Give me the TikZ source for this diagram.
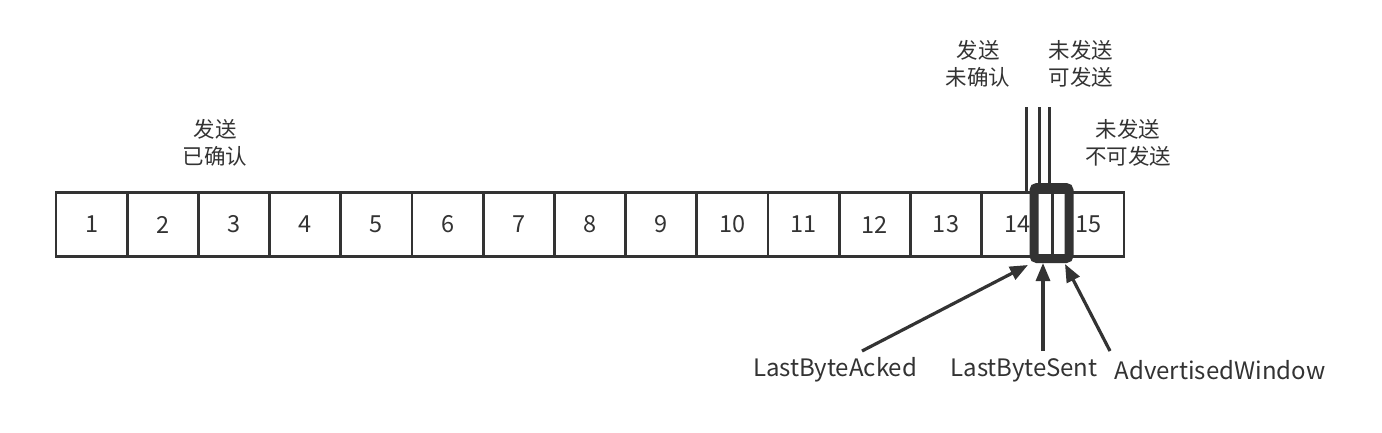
\documentclass[tikz,border=0pt]{standalone}
\usepackage{fontspec}
\setmainfont{Noto Sans CJK SC}
\usetikzlibrary{arrows.meta}

\definecolor{ink}{HTML}{333333}
\tikzstyle{cell}=[rectangle, draw=ink, line width=2.8pt, minimum width=71.2pt, minimum height=64pt, inner sep=0pt, text=ink, font=\fontsize{23.5}{26}\selectfont]
\tikzstyle{label}=[text=ink, align=center, font=\fontsize{21.5}{27}\selectfont]
\tikzstyle{latin}=[text=ink, font=\fontsize{24}{27}\selectfont]
\tikzstyle{pointer}=[draw=ink, line width=3.2pt, -{Triangle[length=18pt,width=14pt]}]

\begin{document}
\begin{tikzpicture}[x=1pt, y=-1pt]
            \useasboundingbox (0,0) rectangle (1382,432);

            % Bunky 1--15
            \foreach \i in {1,...,15}
                \node[cell] (c\i) at ({56+71.2*(\i-0.5)},224.5) {\i};

            % Okno
            \node[draw=ink, line width=9pt, rounded corners=3pt, minimum width=35pt, minimum height=71pt, inner sep=0pt] (win) at (1051.5,223) {};

            % Popisky nahore
            \node[label] (acked) at (215,143) {发送\\已确认};
            \node[label] (unacked) at (978,64) {发送\\未确认};
            \node[label] (usable) at (1081,64) {未发送\\可发送};
            \node[label] (unusable) at (1128,143) {未发送\\不可发送};

            % Cary nad oknem
            \coordinate (t1) at (1026,107);
            \coordinate (t2) at (1039,107);
            \coordinate (t3) at (1049,107);
            \draw[ink, line width=3pt] (t1) -- (t1 |- c14.north);
            \draw[ink, line width=3pt] (t2) -- (t2 |- win.north);
            \draw[ink, line width=3pt] (t3) -- (t3 |- win.north);

            % Popisky dole
            \node[latin] (lba) at (835,370) {LastByteAcked};
            \node[latin] (lbs) at (1024,370) {LastByteSent};
            \node[latin] (adw) at (1220,370) {AdvertisedWindow};

            % Sipky
            \coordinate (a1) at (862,351);
            \coordinate (a2) at (1043,351);
            \coordinate (a3) at (1110,351);
            \coordinate (h1) at (1028,265);
            \coordinate (h2) at (1043,263);
            \coordinate (h3) at (1065,264);
            \draw[pointer] (a1) -- (h1);
            \draw[pointer] (a2) -- (h2);
            \draw[pointer] (a3) -- (h3);
        \end{tikzpicture}
\end{document}
